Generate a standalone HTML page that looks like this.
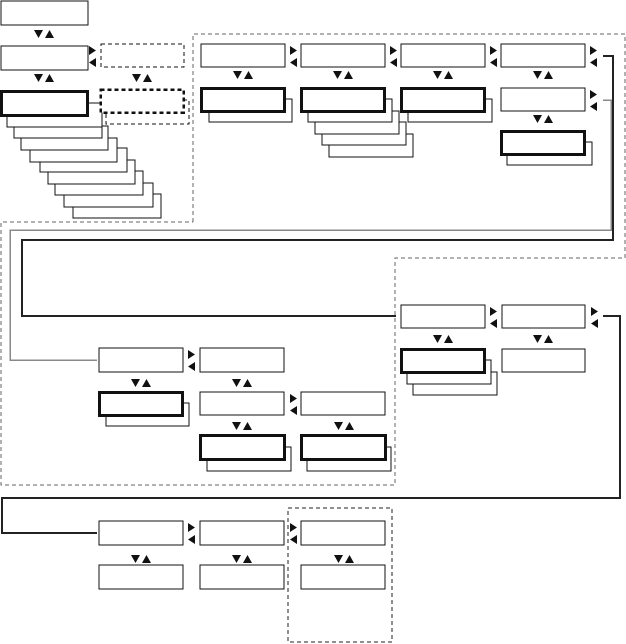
<!DOCTYPE html>
<html><head><meta charset="utf-8"><style>html,body{margin:0;padding:0;background:#fff}svg{display:block}</style></head><body>
<svg width="626" height="644" viewBox="0 0 626 644" xmlns="http://www.w3.org/2000/svg">
<g fill="none" shape-rendering="crispEdges">
<polyline points="193,222 193,34 625,34 625,258 395,258 395,485 1,485 1,222 193,222" stroke="#666" stroke-width="1" stroke-dasharray="4,3"/>
<polyline points="603,100 611,100 611,230 10,230 10,360 97,360" stroke="#888" stroke-width="1.5"/>
<polyline points="603,56 613,56 613,240 22,240 22,316 396,316" stroke="#222" stroke-width="2"/>
<polyline points="603,316 620,316 620,498 2,498 2,533 97,533" stroke="#222" stroke-width="2"/>
<rect x="288" y="508" width="104" height="134" stroke="#222" stroke-dasharray="4,3"/>
</g>
<g fill="#fff" stroke="#111" stroke-width="1" shape-rendering="crispEdges">
<rect x="73" y="194" width="88" height="24"/>
<rect x="64" y="183" width="89" height="24"/>
<rect x="55" y="171" width="88" height="24"/>
<rect x="48" y="160" width="87" height="24"/>
<rect x="40" y="148" width="87" height="24"/>
<rect x="30" y="138" width="87" height="24"/>
<rect x="21" y="126" width="87" height="24"/>
<rect x="14" y="114" width="88" height="24"/>
<rect x="7" y="103" width="95" height="24"/>
<rect x="1" y="1" width="87" height="24"/>
<rect x="1" y="46" width="87" height="24"/>
<rect x="1.5" y="91.5" width="86" height="24" stroke-width="3"/>
<rect x="106" y="100" width="83" height="24" stroke-dasharray="4,3"/>
<rect x="100.5" y="89.5" width="83" height="23" stroke-width="2.5" stroke-dasharray="4,3"/>
<rect x="101" y="44" width="83" height="23" stroke-dasharray="4,3"/>
<rect x="201" y="44" width="84" height="23"/>
<rect x="301" y="44" width="84" height="23"/>
<rect x="401" y="44" width="84" height="23"/>
<rect x="501" y="44" width="84" height="23"/>
<rect x="209" y="99" width="83" height="23"/>
<rect x="201.5" y="88.5" width="83" height="23" stroke-width="3"/>
<rect x="329" y="134" width="84" height="23"/>
<rect x="322" y="122" width="84" height="23"/>
<rect x="315" y="111" width="84" height="23"/>
<rect x="308" y="99" width="84" height="23"/>
<rect x="301.5" y="88.5" width="83" height="23" stroke-width="3"/>
<rect x="408" y="99" width="84" height="23"/>
<rect x="401.5" y="88.5" width="83" height="23" stroke-width="3"/>
<rect x="501" y="88" width="84" height="23"/>
<rect x="507" y="142" width="85" height="23"/>
<rect x="501.5" y="131.5" width="83" height="23" stroke-width="3"/>
<rect x="401" y="305" width="84" height="23"/>
<rect x="502" y="305" width="83" height="23"/>
<rect x="413" y="372" width="84" height="23"/>
<rect x="407" y="360" width="84" height="24"/>
<rect x="401.5" y="349.5" width="83" height="23" stroke-width="3"/>
<rect x="502" y="349" width="83" height="23"/>
<rect x="99" y="348" width="84" height="24"/>
<rect x="200" y="348" width="84" height="24"/>
<rect x="106" y="403" width="83" height="23"/>
<rect x="99.5" y="392.5" width="83" height="23" stroke-width="3"/>
<rect x="200" y="392" width="84" height="23"/>
<rect x="301" y="392" width="84" height="23"/>
<rect x="207" y="447" width="84" height="24"/>
<rect x="200.5" y="435.5" width="84" height="24" stroke-width="3"/>
<rect x="307" y="447" width="84" height="24"/>
<rect x="301.5" y="435.5" width="84" height="24" stroke-width="3"/>
<rect x="99" y="521" width="84" height="24"/>
<rect x="200" y="521" width="84" height="24"/>
<rect x="301" y="521" width="84" height="24"/>
<rect x="99" y="565" width="84" height="24"/>
<rect x="200" y="565" width="84" height="24"/>
<rect x="301" y="565" width="84" height="24"/>
</g>
<g fill="#111">
<path d="M34,30h9l-4.5,8zM45,38h9l-4.5,-8z"/>
<path d="M34,74h9l-4.5,8zM45,82h9l-4.5,-8z"/>
<path d="M132,74h9l-4.5,8zM143,82h9l-4.5,-8z"/>
<path d="M233,71h9l-4.5,8zM244,79h9l-4.5,-8z"/>
<path d="M333,71h9l-4.5,8zM344,79h9l-4.5,-8z"/>
<path d="M433,71h9l-4.5,8zM444,79h9l-4.5,-8z"/>
<path d="M533,71h9l-4.5,8zM544,79h9l-4.5,-8z"/>
<path d="M533,115h9l-4.5,8zM544,123h9l-4.5,-8z"/>
<path d="M433,335h9l-4.5,8zM444,343h9l-4.5,-8z"/>
<path d="M533,335h9l-4.5,8zM544,343h9l-4.5,-8z"/>
<path d="M131,379h9l-4.5,8zM142,387h9l-4.5,-8z"/>
<path d="M232,379h9l-4.5,8zM243,387h9l-4.5,-8z"/>
<path d="M232,422h9l-4.5,8zM243,430h9l-4.5,-8z"/>
<path d="M334,422h9l-4.5,8zM345,430h9l-4.5,-8z"/>
<path d="M131,555h9l-4.5,8zM142,563h9l-4.5,-8z"/>
<path d="M232,555h9l-4.5,8zM243,563h9l-4.5,-8z"/>
<path d="M334,555h9l-4.5,8zM345,563h9l-4.5,-8z"/>
<path d="M89,46v9l7,-4.5zM96,58v9l-7,-4.5z"/>
<path d="M290,46v9l7,-4.5zM297,58v9l-7,-4.5z"/>
<path d="M390,46v9l7,-4.5zM397,58v9l-7,-4.5z"/>
<path d="M490,46v9l7,-4.5zM497,58v9l-7,-4.5z"/>
<path d="M590,46v9l7,-4.5zM597,58v9l-7,-4.5z"/>
<path d="M590,90v9l7,-4.5zM597,102v9l-7,-4.5z"/>
<path d="M490,307v9l7,-4.5zM497,319v9l-7,-4.5z"/>
<path d="M591,307v9l7,-4.5zM598,319v9l-7,-4.5z"/>
<path d="M188,350v9l7,-4.5zM195,362v9l-7,-4.5z"/>
<path d="M290,394v9l7,-4.5zM297,406v9l-7,-4.5z"/>
<path d="M188,523v9l7,-4.5zM195,535v9l-7,-4.5z"/>
<path d="M290,523v9l7,-4.5zM297,535v9l-7,-4.5z"/>
</g>
</svg>
</body></html>
